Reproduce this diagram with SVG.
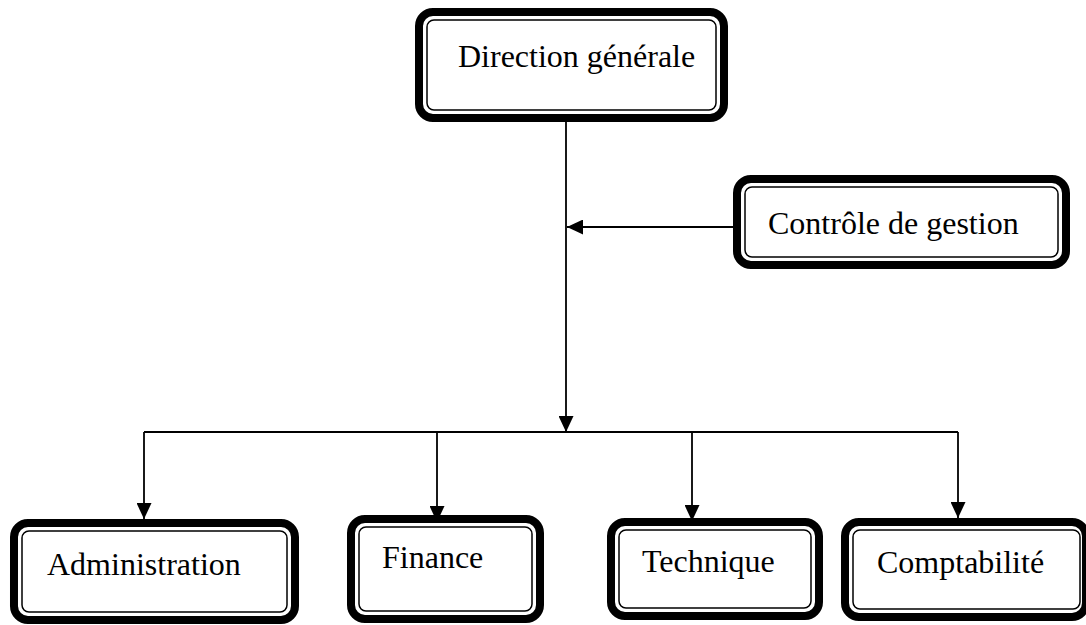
<svg xmlns="http://www.w3.org/2000/svg" width="1086" height="625" viewBox="0 0 1086 625">
  <style>
    .frame { fill: #ffffff; stroke: #000000; stroke-width: 8; }
    .inner { fill: none; stroke: #000000; stroke-width: 1.5; }
    .label { font-family: "Liberation Serif", "Times New Roman", serif; font-size: 32px; fill: #000000; }
    .link { fill: none; stroke: #000000; stroke-width: 1.8; }
  </style>
  <defs>
    <marker id="arrow" markerUnits="userSpaceOnUse" markerWidth="17" markerHeight="15" refX="16" refY="7.5" orient="auto">
      <path d="M0,0 L16,7.5 L0,15 Z" fill="#000000"/>
    </marker>
  </defs>
  <rect width="1086" height="625" fill="#ffffff"/>

  <!-- connectors -->
  <g id="connectors">
    <line class="link" x1="566" y1="121" x2="566" y2="432" marker-end="url(#arrow)"/>
    <line class="link" x1="733" y1="227" x2="567" y2="227" marker-end="url(#arrow)"/>
    <line class="link" x1="144" y1="432" x2="958" y2="432"/>
    <line class="link" x1="144" y1="432" x2="144" y2="519" marker-end="url(#arrow)"/>
    <line class="link" x1="437" y1="432" x2="437" y2="522" marker-end="url(#arrow)"/>
    <line class="link" x1="692" y1="432" x2="692" y2="521" marker-end="url(#arrow)"/>
    <line class="link" x1="958" y1="432" x2="958" y2="518" marker-end="url(#arrow)"/>
  </g>

  <!-- nodes: thick outer frame with a thin inner rule -->
  <g id="direction-generale">
    <rect class="frame" x="419" y="12" width="305" height="106" rx="14"/>
    <rect class="inner" x="427" y="20" width="289" height="90" rx="7"/>
    <text class="label" x="458" y="67">Direction générale</text>
  </g>

  <g id="controle-de-gestion">
    <rect class="frame" x="737" y="179" width="329" height="86" rx="14"/>
    <rect class="inner" x="745" y="187" width="313" height="70" rx="7"/>
    <text class="label" x="768" y="234">Contrôle de gestion</text>
  </g>

  <g id="administration">
    <rect class="frame" x="14" y="523" width="281" height="97" rx="14"/>
    <rect class="inner" x="22" y="531" width="265" height="81" rx="7"/>
    <text class="label" x="47" y="575">Administration</text>
  </g>

  <g id="finance">
    <rect class="frame" x="351" y="519" width="189" height="100" rx="14"/>
    <rect class="inner" x="359" y="527" width="173" height="84" rx="7"/>
    <text class="label" x="382" y="568">Finance</text>
  </g>

  <g id="technique">
    <rect class="frame" x="611" y="522" width="208" height="94" rx="14"/>
    <rect class="inner" x="619" y="530" width="192" height="78" rx="7"/>
    <text class="label" x="642" y="572">Technique</text>
  </g>

  <g id="comptabilite">
    <rect class="frame" x="845" y="522" width="241" height="95" rx="14"/>
    <rect class="inner" x="853" y="530" width="227" height="79" rx="7"/>
    <text class="label" x="877" y="573">Comptabilité</text>
  </g>
</svg>
